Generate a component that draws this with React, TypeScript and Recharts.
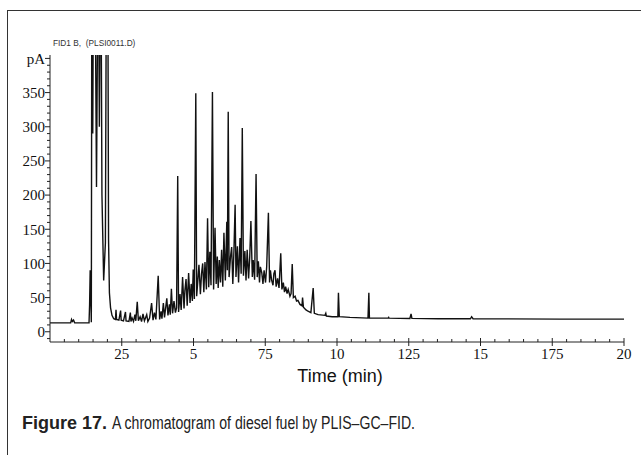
import React from "react";
import { LineChart, Line, XAxis, YAxis } from "recharts";

// retention time (min) and detector signal (pA)
const solventTimes = [0, 0.6, 0.72, 0.75, 0.78, 0.82, 0.86, 1.36, 1.38, 1.4, 1.42, 1.44, 1.46, 1.49, 1.52, 1.56, 1.62, 1.68, 1.72, 1.77, 1.81, 1.87, 1.93, 1.97, 2.01, 2.04, 2.07, 2.11, 2.16, 2.22, 2.28, 2.3, 2.32, 2.4, 2.46, 2.48, 2.56, 2.63, 2.65, 2.75, 2.8, 2.82];
const solventValues = [13, 13, 13, 18, 15, 17, 13, 13, 40, 90, 55, 14, 600, 290, 600, 600, 212, 600, 300, 600, 200, 75, 130, 600, 600, 135, 57, 35, 24, 19, 18, 32, 18, 17, 31, 17, 16, 29, 16, 15, 28, 15];

const earlyTimes = [2.86, 2.91, 2.96, 2.99, 3.04, 3.08, 3.14, 3.19, 3.24, 3.29, 3.37, 3.41, 3.47, 3.54, 3.59, 3.64, 3.69, 3.77, 3.82, 3.87, 3.9, 3.95, 3.99, 4.07, 4.11, 4.16, 4.19, 4.23, 4.27, 4.32, 4.37, 4.41, 4.45, 4.48, 4.53, 4.57, 4.62, 4.67, 4.7, 4.74, 4.78, 4.83, 4.88, 4.92, 4.96, 4.99, 5.03];
const earlyValues = [20, 15, 25, 16, 44, 16, 22, 15, 26, 16, 25, 15, 20, 42, 17, 28, 18, 82, 18, 30, 19, 42, 21, 49, 24, 40, 25, 63, 27, 45, 28, 35, 228, 29, 55, 32, 80, 34, 60, 77, 38, 86, 42, 70, 45, 91, 48];

const humpTimes = [5.08, 5.11, 5.16, 5.19, 5.24, 5.28, 5.32, 5.36, 5.4, 5.45, 5.49, 5.53, 5.57, 5.61, 5.66, 5.7, 5.75, 5.79, 5.83, 5.86, 5.9, 5.94, 5.98, 6.02, 6.06, 6.11, 6.16, 6.18, 6.21, 6.24, 6.29, 6.33, 6.37, 6.41, 6.45, 6.48, 6.53, 6.57, 6.62, 6.66, 6.7, 6.74, 6.79, 6.83, 6.87, 6.92, 6.96, 7.0, 7.05, 7.08, 7.13, 7.18, 7.22, 7.26, 7.3, 7.33, 7.38, 7.42, 7.46, 7.51, 7.55, 7.61, 7.65, 7.68, 7.72, 7.77, 7.8, 7.84, 7.88, 7.93, 7.98, 8.04, 8.08, 8.13, 8.17, 8.21, 8.26, 8.3, 8.36, 8.4, 8.44, 8.48];
const humpValues = [349, 52, 80, 98, 55, 85, 100, 58, 102, 62, 166, 65, 117, 68, 351, 62, 152, 70, 110, 64, 105, 72, 120, 66, 145, 75, 161, 90, 322, 80, 110, 124, 70, 120, 186, 80, 125, 72, 137, 85, 298, 82, 118, 75, 120, 78, 110, 162, 80, 105, 76, 231, 80, 103, 72, 95, 86, 70, 90, 72, 95, 174, 72, 90, 76, 68, 85, 90, 66, 78, 64, 115, 62, 72, 58, 66, 56, 62, 52, 56, 99, 50];

const tailTimes = [8.54, 8.59, 8.64, 8.71, 8.78, 8.8, 8.83, 8.92, 8.99, 9.09, 9.17, 9.21, 9.34, 9.58, 9.61, 9.63, 9.83, 10.03, 10.05, 10.08, 10.45, 11.08, 11.11, 11.13, 11.78, 11.8, 11.81, 12.54, 12.58, 12.61, 13.52, 14.65, 14.69, 14.74, 17.77, 20];
const tailValues = [52, 45, 46, 40, 38, 50, 36, 32, 30, 28, 64, 27, 25, 24, 27, 23, 22, 22, 57, 22, 21, 20, 57, 20, 20, 21, 20, 19.5, 26, 19.5, 19, 19, 22, 19, 18.5, 18.5];

// axis ticks and their printed labels (the figure drops the decimal points)
const xMajorTicks = [2.5, 5, 7.5, 10, 12.5, 15, 17.5, 20];
const xMajorLabels = ["25", "5", "75", "10", "125", "15", "175", "20"];
const yMajorTicks = [0, 50, 100, 150, 200, 250, 300, 350, 400];
const yMajorLabels = ["0", "50", "100", "150", "200", "250", "300", "350", "pA"];

const xTicks = Array.from({ length: 40 }, (_, i) => (i + 1) * 0.5);
const yTicks = Array.from({ length: 42 }, (_, i) => -10 + i * 10);

const times = [...solventTimes, ...earlyTimes, ...humpTimes, ...tailTimes];
const values = [...solventValues, ...earlyValues, ...humpValues, ...tailValues];
const data = times.map((t, i) => ({ t, v: values[i] }));

const serif = '"Liberation Serif", "Times New Roman", serif';
const sans = '"Liberation Sans", Arial, sans-serif';

const YTick = ({ x, y, payload }: any) => {
  const idx = yMajorTicks.indexOf(payload.value);
  const major = idx >= 0;
  return (
    <g>
      <line x1={x - (major ? 5 : 3)} x2={x} y1={y} y2={y} stroke="#222" strokeWidth={1} />
      {major && (
        <text
          x={x - 5}
          y={y}
          dy="0.35em"
          textAnchor="end"
          fontFamily={serif}
          fontSize={15}
          fill="#111"
        >
          {yMajorLabels[idx]}
        </text>
      )}
    </g>
  );
};

const XTick = ({ x, y, payload }: any) => {
  const idx = xMajorTicks.indexOf(payload.value);
  const major = idx >= 0;
  return (
    <g>
      <line
        x1={x}
        x2={x}
        y1={major ? y - 4 : y - 3}
        y2={major ? y + 4 : y}
        stroke="#222"
        strokeWidth={1}
      />
      {major && (
        <text
          x={x}
          y={y + 17}
          textAnchor="middle"
          fontFamily={serif}
          fontSize={15}
          fill="#111"
        >
          {xMajorLabels[idx]}
        </text>
      )}
    </g>
  );
};

export default function App() {
  return (
    <div
      style={{
        position: "fixed",
        left: 0,
        top: 0,
        width: 641,
        height: 455,
        overflow: "hidden",
        background: "#fff",
      }}
    >
      {/* figure frame, open to the right and bottom */}
      <div
        style={{
          position: "absolute",
          left: 7,
          top: 10,
          width: 700,
          height: 500,
          borderTop: "1.5px solid #333",
          borderLeft: "1.5px solid #333",
        }}
      />

      <div
        style={{
          position: "absolute",
          left: 53,
          top: 38,
          fontFamily: sans,
          fontSize: 8.3,
          color: "#333",
          whiteSpace: "pre",
        }}
      >
        {"FID1 B,  (PLSI0011.D)"}
      </div>

      <div style={{ position: "absolute", left: 0, top: 0 }}>
        <LineChart
          width={641}
          height={400}
          data={data}
          margin={{ top: 55, right: 17, left: 0, bottom: 28 }}
        >
          <XAxis
            dataKey="t"
            type="number"
            domain={[0, 20]}
            ticks={xTicks}
            interval={0}
            allowDataOverflow
            height={30}
            tickSize={0}
            tickMargin={0}
            tickLine={false}
            axisLine={{ stroke: "#222", strokeWidth: 1 }}
            tick={<XTick />}
          />
          <YAxis
            type="number"
            domain={[-15, 405]}
            ticks={yTicks}
            interval={0}
            allowDataOverflow
            width={50}
            tickSize={0}
            tickMargin={0}
            tickLine={false}
            axisLine={{ stroke: "#222", strokeWidth: 1 }}
            tick={<YTick />}
          />
          <Line
            type="linear"
            dataKey="v"
            stroke="#111"
            strokeWidth={1.4}
            dot={false}
            isAnimationActive={false}
          />
        </LineChart>
      </div>

      <div
        style={{
          position: "absolute",
          left: 240,
          width: 200,
          top: 366,
          textAlign: "center",
          fontFamily: sans,
          fontSize: 18,
          color: "#111",
        }}
      >
        Time (min)
      </div>

      {/* caption, squeezed to the condensed width of the original */}
      <svg
        width={641}
        height={40}
        style={{ position: "absolute", left: 0, top: 405 }}
      >
        <text
          x={22}
          y={24}
          fontFamily={sans}
          fontSize={18}
          fontWeight="bold"
          fill="#222"
          textLength={85}
          lengthAdjust="spacingAndGlyphs"
        >
          Figure 17.
        </text>
        <text
          x={112}
          y={24}
          fontFamily={sans}
          fontSize={18}
          fill="#222"
          textLength={303}
          lengthAdjust="spacingAndGlyphs"
        >
          A chromatogram of diesel fuel by PLIS–GC–FID.
        </text>
      </svg>
    </div>
  );
}
